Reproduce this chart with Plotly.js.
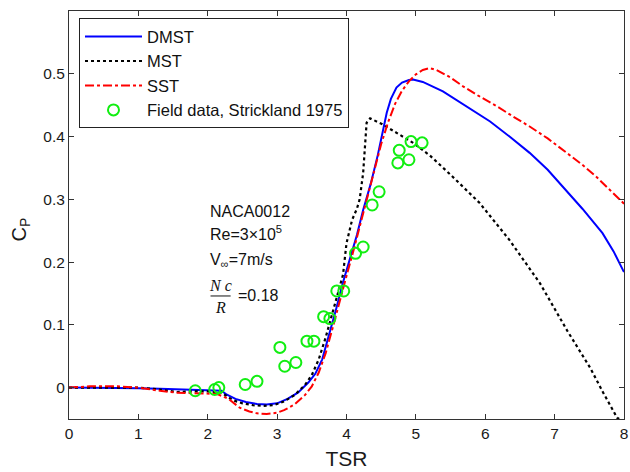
<!DOCTYPE html>
<html>
<head>
<meta charset="utf-8">
<script src="https://cdn.plot.ly/plotly-3.0.1.min.js"></script>
<style>html,body{margin:0;padding:0;background:#fff;}#chart{width:630px;height:472px;}</style>
</head>
<body>
<div id="chart"></div>
<script>
// DMST (blue solid)
const dmstX = [0, 0.5, 1.0, 1.31, 1.6, 2.0, 2.2, 2.27, 2.4, 2.55, 2.71, 2.85, 3.0, 3.15, 3.3, 3.45, 3.55, 3.65, 3.76, 3.85, 3.95, 4.05, 4.15, 4.24, 4.35, 4.45, 4.52, 4.58, 4.64, 4.72, 4.8, 4.9, 4.96, 5.1, 5.39, 5.7, 6.07, 6.35, 6.64, 6.9, 7.12, 7.4, 7.69, 7.85, 8.0];
const dmstY = [0, 0, -0.001, -0.002, -0.003, -0.004, -0.005, -0.011, -0.018, -0.023, -0.026, -0.027, -0.025, -0.018, -0.008, 0.008, 0.022, 0.045, 0.088, 0.125, 0.168, 0.205, 0.243, 0.283, 0.325, 0.37, 0.405, 0.438, 0.46, 0.478, 0.486, 0.49, 0.491, 0.487, 0.472, 0.45, 0.424, 0.4, 0.374, 0.347, 0.32, 0.285, 0.246, 0.217, 0.184];

// MST (black dotted)
const mstX = [0, 0.5, 1.0, 1.3, 1.55, 1.8, 2.0, 2.2, 2.36, 2.5, 2.65, 2.8, 2.95, 3.1, 3.25, 3.4, 3.5, 3.6, 3.7, 3.8, 3.9, 3.95, 4.0, 4.08, 4.15, 4.19, 4.24, 4.27, 4.29, 4.34, 4.51, 4.96, 5.2, 5.53, 5.92, 6.35, 6.79, 7.18, 7.51, 7.7, 7.9, 7.93];
const mstY = [0, 0, 0, -0.003, -0.007, -0.006, -0.006, -0.008, -0.02, -0.025, -0.028, -0.029, -0.028, -0.022, -0.012, 0.004, 0.02, 0.045, 0.08, 0.12, 0.16, 0.18, 0.23, 0.267, 0.285, 0.3, 0.342, 0.384, 0.422, 0.429, 0.42, 0.39, 0.37, 0.336, 0.294, 0.235, 0.166, 0.091, 0.032, -0.008, -0.048, -0.05];

// SST (red dash-dot)
const sstX = [0, 0.3, 0.7, 1.0, 1.31, 1.55, 1.79, 2.0, 2.13, 2.3, 2.46, 2.6, 2.71, 2.85, 3.0, 3.1, 3.25, 3.4, 3.5, 3.6, 3.7, 3.8, 3.9, 4.0, 4.1, 4.2, 4.3, 4.4, 4.5, 4.6, 4.7, 4.8, 4.9, 5.0, 5.1, 5.2, 5.3, 5.5, 5.68, 5.9, 6.17, 6.4, 6.64, 6.9, 7.12, 7.4, 7.6, 7.8, 7.94, 8.0];
const sstY = [0, 0.002, 0.002, 0, -0.005, -0.008, -0.009, -0.009, -0.01, -0.018, -0.032, -0.038, -0.041, -0.042, -0.04, -0.036, -0.027, -0.012, 0.002, 0.024, 0.055, 0.095, 0.138, 0.178, 0.218, 0.26, 0.302, 0.345, 0.388, 0.423, 0.452, 0.473, 0.488, 0.499, 0.506, 0.509, 0.506, 0.494, 0.48, 0.465, 0.448, 0.432, 0.416, 0.397, 0.379, 0.355, 0.336, 0.315, 0.3, 0.293];

// Field data, Strickland 1975 (green circles)
const fieldX = [1.82, 2.10, 2.16, 2.54, 2.71, 3.04, 3.11, 3.27, 3.43, 3.53, 3.67, 3.76, 3.86, 3.96, 4.13, 4.24, 4.37, 4.47, 4.74, 4.76, 4.90, 4.93, 5.09];
const fieldY = [-0.005, -0.003, 0.0, 0.005, 0.010, 0.064, 0.034, 0.040, 0.074, 0.074, 0.113, 0.110, 0.154, 0.154, 0.214, 0.224, 0.291, 0.312, 0.358, 0.378, 0.363, 0.392, 0.390];

const xTicks = [0, 1, 2, 3, 4, 5, 6, 7, 8];
const yTicks = [0, 0.1, 0.2, 0.3, 0.4, 0.5];
const yTickText = ['0', '0.1', '0.2', '0.3', '0.4', '0.5'];

const traces = [
  {x: dmstX, y: dmstY, name: 'DMST', type: 'scatter', mode: 'lines', legendgroup: 'a',
   line: {color: '#0000ff', width: 2}},
  {x: mstX, y: mstY, name: 'MST', type: 'scatter', mode: 'lines', legendgroup: 'b',
   line: {color: '#000000', width: 2.2, dash: 'dot'}},
  {x: sstX, y: sstY, name: 'SST', type: 'scatter', mode: 'lines', legendgroup: 'c',
   line: {color: '#ff0000', width: 2, dash: 'dashdot'}},
  {x: fieldX, y: fieldY, name: 'Field data, Strickland 1975', type: 'scatter', mode: 'markers', legendgroup: 'd',
   marker: {symbol: 'circle-open', size: 11, color: '#11ee11', line: {width: 2, color: '#11ee11'}}}
];

const fam = 'Arial, "Liberation Sans", sans-serif';
const serif = '"Liberation Serif", "Times New Roman", serif';

const layout = {
  width: 630, height: 472,
  margin: {l: 69, r: 6, t: 11, b: 53},
  paper_bgcolor: '#ffffff', plot_bgcolor: '#ffffff',
  font: {family: fam, size: 14, color: '#1a1a1a'},
  showlegend: true,
  legend: {x: 0.018, y: 0.982, xanchor: 'left', yanchor: 'top',
    bordercolor: '#222', borderwidth: 1, bgcolor: '#ffffff',
    font: {family: fam, size: 16.5, color: '#111'},
    itemwidth: 57, tracegroupgap: 0, traceorder: 'normal'},
  xaxis: {range: [0, 8], tickvals: xTicks, ticks: 'inside', ticklen: 5, tickcolor: '#333',
    showline: true, linecolor: '#333', linewidth: 1, mirror: 'ticks', showgrid: false, zeroline: false,
    tickfont: {family: fam, size: 15.5, color: '#1a1a1a'},
    title: {text: 'TSR', font: {family: fam, size: 21, color: '#1a1a1a'}, standoff: 10}},
  yaxis: {range: [-0.05, 0.6], tickvals: yTicks, ticktext: yTickText, ticks: 'inside', ticklen: 5, tickcolor: '#333',
    showline: true, linecolor: '#333', linewidth: 1, mirror: 'ticks', showgrid: false, zeroline: false,
    tickfont: {family: fam, size: 15.5, color: '#1a1a1a'}},
  annotations: [
    {xref: 'paper', yref: 'paper', x: -0.088, y: 0.465, xanchor: 'center', yanchor: 'middle', showarrow: false,
     textangle: -90, text: 'C<sub>P</sub>', font: {family: fam, size: 20, color: '#1a1a1a'}},
    {xref: 'x', yref: 'y', x: 2.0, y: 0.28, xanchor: 'left', yanchor: 'middle', showarrow: false,
     text: 'NACA0012', font: {family: fam, size: 16, color: '#111'}},
    {xref: 'x', yref: 'y', x: 2.0, y: 0.246, xanchor: 'left', yanchor: 'middle', showarrow: false,
     text: 'Re=3×10<sup>5</sup>', font: {family: fam, size: 16, color: '#111'}},
    {xref: 'x', yref: 'y', x: 2.0, y: 0.203, xanchor: 'left', yanchor: 'middle', showarrow: false,
     text: 'V<sub>∞</sub>=7m/s', font: {family: fam, size: 16, color: '#111'}},
    {xref: 'x', yref: 'y', x: 2.185, y: 0.163, xanchor: 'center', yanchor: 'middle', showarrow: false,
     text: '<i>N c</i>', font: {family: serif, size: 16, color: '#111'}},
    {xref: 'x', yref: 'y', x: 2.19, y: 0.128, xanchor: 'center', yanchor: 'middle', showarrow: false,
     text: '<i>R</i>', font: {family: serif, size: 16, color: '#111'}},
    {xref: 'x', yref: 'y', x: 2.4, y: 0.147, xanchor: 'left', yanchor: 'middle', showarrow: false,
     text: '=0.18', font: {family: fam, size: 16, color: '#111'}}
  ],
  shapes: [
    {type: 'line', xref: 'x', yref: 'y', x0: 2.04, x1: 2.33, y0: 0.146, y1: 0.146,
     line: {color: '#111', width: 1}}
  ]
};

Plotly.newPlot('chart', traces, layout, {displayModeBar: false, staticPlot: true});
</script>
</body>
</html>
